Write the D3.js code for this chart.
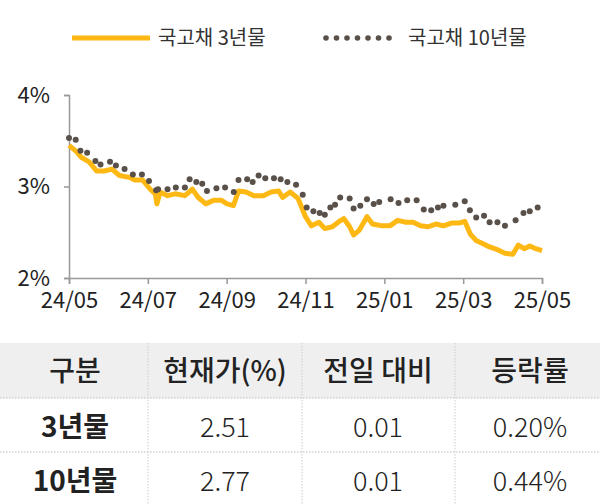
<!DOCTYPE html><html><head><meta charset="utf-8"><script src="https://cdn.jsdelivr.net/npm/d3@7"></script>
<style>body{margin:0;background:#fff}text{font-family:"Noto Sans CJK KR","Noto Sans",sans-serif}</style></head><body><svg id="c" width="600" height="504"></svg><script>
const xTickLabels=["24/05","24/07","24/09","24/11","25/01","25/03","25/05"];
const yTickLabels=["2%","3%","4%"];
const legendNames=["국고채 3년물","국고채 10년물"];
const m3=[0,.17,.31,.51,.70,.89,1.09,1.28,1.53,1.67,1.87,2.06,2.19,2.23,2.31,2.50,2.69,2.94,3.13,3.28,3.47,3.67,3.86,4.01,4.17,4.30,4.49,4.69,4.93,5.13,5.32,5.42,5.61,5.81,6.00,6.15,6.34,6.49,6.68,6.83,6.97,7.12,7.22,7.36,7.56,7.70,7.95,8.14,8.34,8.53,8.73,8.92,9.11,9.31,9.50,9.70,9.89,10.04,10.18,10.33,10.53,10.67,10.87,11.06,11.26,11.40,11.55,11.69,11.84,12];
const v3=[3.45,3.39,3.32,3.27,3.17,3.17,3.19,3.12,3.10,3.07,3.07,2.97,2.92,2.81,2.94,2.90,2.92,2.90,2.97,2.88,2.81,2.85,2.85,2.81,2.79,2.95,2.94,2.90,2.90,2.94,2.95,2.88,2.94,2.87,2.67,2.57,2.61,2.54,2.56,2.61,2.65,2.56,2.47,2.52,2.67,2.59,2.57,2.57,2.63,2.61,2.61,2.57,2.56,2.59,2.57,2.60,2.60,2.62,2.48,2.41,2.37,2.34,2.31,2.27,2.26,2.36,2.32,2.35,2.32,2.30];
const m10=[0,.17,.29,.46,.67,.80,1.04,1.19,1.41,1.62,1.85,2.03,2.21,2.26,2.50,2.71,2.94,3.06,3.23,3.38,3.50,3.74,3.96,4.18,4.30,4.52,4.66,4.81,4.98,5.20,5.37,5.54,5.76,5.93,6.03,6.20,6.36,6.49,6.63,6.75,6.88,7.12,7.22,7.39,7.56,7.73,7.87,8.16,8.36,8.58,8.82,9.00,9.19,9.36,9.50,9.80,10.04,10.17,10.33,10.53,10.67,10.87,11.06,11.33,11.53,11.69,11.89];
const v10=[3.53,3.51,3.39,3.37,3.28,3.24,3.27,3.23,3.19,3.13,3.13,3.06,2.96,2.97,2.97,2.99,2.99,3.08,3.05,3.03,2.95,2.98,2.99,2.94,3.07,3.08,3.05,3.12,3.09,3.09,3.08,3.05,3.02,2.91,2.77,2.73,2.71,2.69,2.77,2.80,2.88,2.87,2.76,2.79,2.86,2.81,2.83,2.86,2.82,2.85,2.85,2.75,2.74,2.77,2.79,2.80,2.84,2.74,2.66,2.68,2.61,2.61,2.57,2.63,2.71,2.73,2.77];
const tableHeader=["구분","현재가(%)","전일 대비","등락률"];
const tableRows=[["3년물","2.51","0.01","0.20%"],["10년물","2.77","0.01","0.44%"]];
const C3="#FDB813",C10="#595049";
const svg=d3.select("#c");
const x=d3.scaleLinear().domain([0,12]).range([69,542]);
const y=d3.scaleLinear().domain([2,4]).range([278,95]);
svg.append("line").attr("x1",72).attr("x2",150).attr("y1",38).attr("y2",38).attr("stroke",C3).attr("stroke-width",5);
svg.append("text").attr("x",158).attr("y",45).attr("font-size",20).attr("fill","#333").text(legendNames[0]);
d3.range(7).forEach(i=>svg.append("circle").attr("cx",326+i*10.5).attr("cy",38).attr("r",2.8).attr("fill",C10));
svg.append("text").attr("x",408).attr("y",45).attr("font-size",20).attr("fill","#333").text(legendNames[1]);
const ya=svg.append("g").attr("transform","translate(69,0)").call(d3.axisLeft(y).tickValues([2,3,4]).tickSize(5).tickFormat((d,i)=>yTickLabels[i]));
const xa=svg.append("g").attr("transform","translate(0,278)").call(d3.axisBottom(x).tickValues([0,2,4,6,8,10,12]).tickSize(6).tickFormat((d,i)=>xTickLabels[i]));
[ya,xa].forEach(g=>{g.select(".domain").attr("stroke","#999").attr("stroke-width",1.5);g.selectAll(".tick line").attr("stroke","#999").attr("stroke-width",1.5);g.selectAll("text").attr("font-size",22).attr("fill","#222").style("font-family","'Noto Sans CJK KR'");});
ya.selectAll("text").attr("x",-19);xa.selectAll("text").attr("dy","0.95em");
svg.append("path").datum(m3.map((m,i)=>[m,v3[i]])).attr("fill","none").attr("stroke",C3).attr("stroke-width",5).attr("stroke-linejoin","round").attr("d",d3.line().x(d=>x(d[0])).y(d=>y(d[1])));
svg.selectAll(".d").data(m10.map((m,i)=>[m,v10[i]])).join("circle").attr("cx",d=>x(d[0])).attr("cy",d=>y(d[1])).attr("r",3).attr("fill",C10);
const cx=[75,225,378,530],div=[148,302,455];
svg.append("rect").attr("x",0).attr("y",343).attr("width",600).attr("height",55).attr("fill","#EFEFEF");
[398,452].forEach(yy=>svg.append("line").attr("x1",0).attr("x2",600).attr("y1",yy).attr("y2",yy).attr("stroke","#bbb").attr("stroke-dasharray","1.5,1.5"));
div.forEach(xx=>svg.append("line").attr("x1",xx).attr("x2",xx).attr("y1",343).attr("y2",504).attr("stroke","#ccc").attr("stroke-dasharray","1.5,1.5"));
tableHeader.forEach((t,i)=>svg.append("text").attr("x",cx[i]).attr("y",381).attr("text-anchor","middle").attr("font-size",28).attr("font-weight",500).attr("fill","#222").text(t));
tableRows.forEach((r,j)=>r.forEach((t,i)=>svg.append("text").attr("x",cx[i]).attr("y",437+j*54).attr("text-anchor","middle").attr("font-size",i?27:28).attr("font-weight",i?300:700).attr("fill","#222").text(t)));
</script></body></html>
